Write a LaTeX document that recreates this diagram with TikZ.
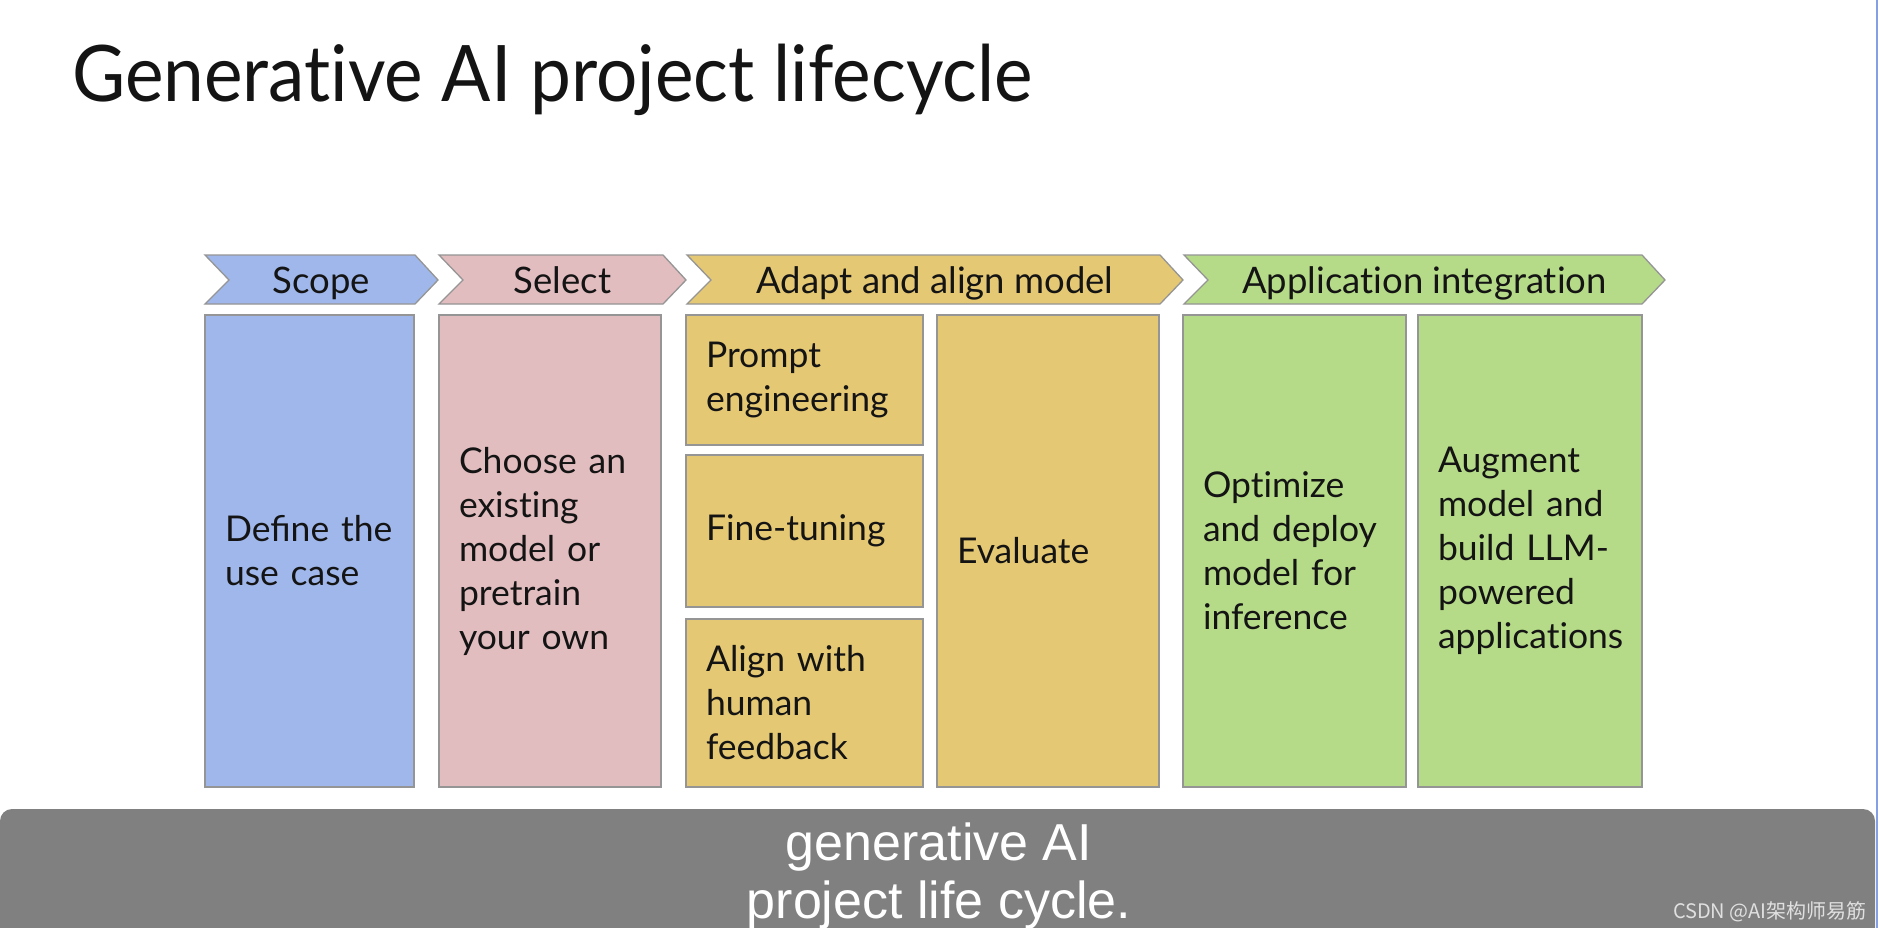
\documentclass[tikz,border=0pt]{standalone}
\usepackage{fontspec}
\setmainfont{Lato}[Ligatures=NoCommon]
\newfontfamily\capfont{Liberation Sans}
\newfontfamily\cjkfont{Noto Sans CJK SC}
\definecolor{blueF}{HTML}{9FB7EA}
\definecolor{pinkF}{HTML}{E2BDBF}
\definecolor{yellowF}{HTML}{E5C873}
\definecolor{greenF}{HTML}{B6DB88}
\definecolor{edgeC}{HTML}{959595}
\definecolor{barC}{HTML}{808080}
\definecolor{sideC}{HTML}{849FE6}
\definecolor{inkC}{HTML}{141414}
\hfuzz=50pt
\begin{document}
\begin{tikzpicture}[x=1pt,y=-1pt,
  chev/.style={draw=edgeC, line width=1.3pt, line join=miter},
  chevlabel/.style={font=\fontsize{36.5}{42}\selectfont, text=inkC, inner sep=0pt, anchor=base},
  stagebox/.style={draw=edgeC, line width=1.5pt, inner xsep=20pt, inner ysep=0pt,
     outer sep=0pt, align=left, anchor=north west, text=inkC,
     font=\fontsize{35.5}{44}\selectfont},
]
\clip (0,0) rectangle (1878,928);
\fill[white] (0,0) rectangle (1878,928);

% title
\node[anchor=base west, inner sep=0pt, font=\fontsize{78}{96}\selectfont, text=inkC] (title) at (72,102) {\scalebox{0.935}[1]{Generative AI project lifecycle}};

% chevrons
\draw[chev, fill=blueF]   (205,255) -- (415,255) -- (438,280) -- (415,304) -- (205,304) -- (229,280) -- cycle;
\draw[chev, fill=pinkF]   (439,255) -- (663,255) -- (686,280) -- (663,304) -- (439,304) -- (463,280) -- cycle;
\draw[chev, fill=yellowF] (687,255) -- (1160,255) -- (1183,280) -- (1160,304) -- (687,304) -- (711,280) -- cycle;
\draw[chev, fill=greenF]  (1184,255) -- (1642,255) -- (1665,280) -- (1642,304) -- (1184,304) -- (1208,280) -- cycle;

\node[chevlabel] (scopeL)  at (321.5,293) {Scope};
\node[chevlabel] (selectL) at (562.5,293) {Select};
\node[chevlabel] (adaptL)  at (935,293) {Adapt and align model};
\node[chevlabel] (appL)    at (1424.5,293) {Application integration};

% boxes
\node[stagebox, fill=blueF, text width=169pt, minimum height=472pt] (scopeB) at (205,315)
  {Deﬁne the\\use case};
\node[stagebox, fill=pinkF, text width=182pt, minimum height=472pt] (selectB) at (439,315)
  {Choose an\\existing\\model or\\pretrain\\your own};
\node[stagebox, fill=yellowF, text width=197pt, minimum height=130pt] (promptB) at (686,315)
  {Prompt\\engineering};
\node[stagebox, fill=yellowF, text width=197pt, minimum height=152pt] (fineB) at (686,455)
  {Fine-tuning};
\node[stagebox, fill=yellowF, text width=197pt, minimum height=168pt] (alignB) at (686,619)
  {Align with\\human\\feedback};
\node[stagebox, fill=yellowF, text width=182pt, minimum height=472pt] (evalB) at (937,315)
  {Evaluate};
\node[stagebox, fill=greenF, text width=183pt, minimum height=472pt] (optB) at (1183,315)
  {Optimize\\and deploy\\model for\\inference};
\node[stagebox, fill=greenF, text width=184pt, minimum height=472pt] (augB) at (1418,315)
  {Augment\\model and\\build LLM-\\powered\\applications};

% caption bar
\fill[barC, rounded corners=12pt] (0,960) -- (0,809) -- (1875,809) -- (1875,960) -- cycle;
\fill[sideC] (1875.5,0) rectangle (1878,928);
\node[anchor=base, inner sep=0pt, text=white, font=\capfont\fontsize{52}{58}\selectfont] (cap1) at (939,860) {generative AI};
\node[anchor=base, inner sep=0pt, text=white, font=\capfont\fontsize{52}{58}\selectfont] (cap2) at (939,918) {project life cycle.};
\node[anchor=base east, inner sep=0pt, text=white!88!black, font=\cjkfont\fontsize{20}{24}\selectfont] (mark) at (1867,918) {CSDN @AI架构师易筋};
\end{tikzpicture}
\end{document}
